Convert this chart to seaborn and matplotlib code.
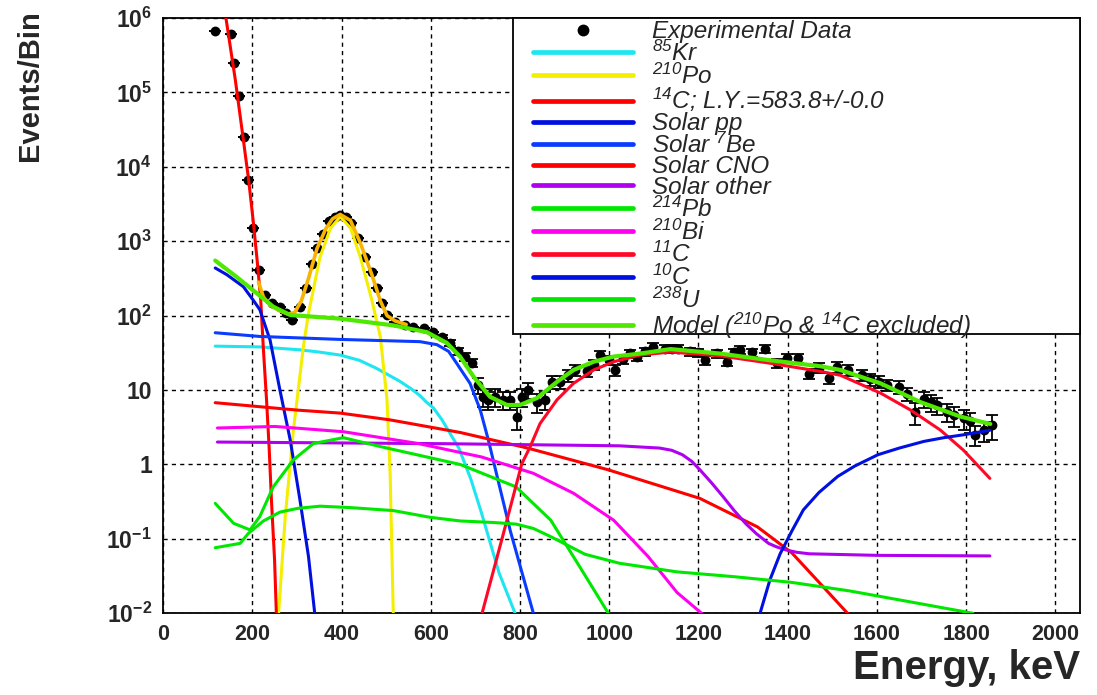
import numpy as np
import pandas as pd
import matplotlib
matplotlib.use("Agg")
import matplotlib.pyplot as plt
import seaborn as sns
from matplotlib.lines import Line2D
from matplotlib.patches import Rectangle
from matplotlib.ticker import MultipleLocator, LogLocator, FixedLocator, FixedFormatter, NullFormatter

# experimental spectrum (energy in keV, events per bin, relative error)
exp_energy = [117, 152, 158, 171, 182, 191, 202, 216, 229, 244, 262, 275, 290, 307, 321, 333,
              345, 358, 372, 385, 397, 410, 422, 438, 453, 468, 479, 490, 502, 520, 543, 561,
              584, 606, 625, 643, 662, 677, 692, 707, 718, 729, 744, 763, 778, 793, 804, 819,
              838, 856, 871, 890, 907, 924, 950, 965, 980, 1000, 1013, 1030, 1047, 1062, 1080,
              1099, 1125, 1140, 1155, 1181, 1198, 1215, 1241, 1264, 1280, 1294, 1320, 1350,
              1376, 1398, 1424, 1447, 1470, 1492, 1510, 1536, 1566, 1585, 1604, 1622, 1649,
              1668, 1686, 1705, 1720, 1735, 1757, 1772, 1794, 1808, 1820, 1839, 1858]
exp_counts = [6.7e5, 6.1e5, 2.5e5, 8.9e4, 2.5e4, 6.6e3, 1.5e3, 410, 190, 148, 129, 110, 87, 132,
              234, 500, 800, 1260, 1860, 2140, 2240, 2090, 1740, 1100, 620, 390, 234, 148, 102,
              83, 74, 71, 68, 60, 52, 43, 33, 28, 23, 11.7, 8.1, 7.4, 8.1, 7.4, 7.4, 4.4, 8.1,
              10, 6.9, 7.4, 12.9, 12.9, 15.8, 18.6, 17.8, 22, 29.5, 25, 18.6, 26, 31, 28, 33,
              38, 36, 35.5, 36, 33, 32, 25, 31, 24, 32, 35, 32, 36, 23, 27, 27, 16.6, 20, 14.5,
              20.4, 18.6, 15.8, 14, 12.9, 11.7, 11, 8.9, 5.1, 7.6, 6.9, 6.3, 5.1, 4.6, 4.2,
              3.8, 2.5, 2.9, 3.4]
exp_rel_err = [0.0] * 34 + [0.05, 0.08, 0.1, 0.12, 0.12, 0.25, 0.28, 0.28, 0.28, 0.28, 0.28,
               0.35, 0.28, 0.25, 0.28, 0.28, 0.2, 0.2, 0.18, 0.16, 0.16, 0.15, 0.13, 0.14,
               0.16, 0.14, 0.13, 0.13, 0.12, 0.12, 0.12, 0.12, 0.12, 0.12, 0.12, 0.13, 0.12,
               0.13, 0.12, 0.12, 0.12, 0.12, 0.14, 0.14, 0.14, 0.16, 0.15, 0.17, 0.16, 0.16,
               0.17, 0.18, 0.18, 0.18, 0.19, 0.2, 0.33, 0.25, 0.26, 0.26, 0.28, 0.3, 0.3,
               0.3, 0.3, 0.3, 0.37]

# fitted components
kr85_e = [117, 217, 307, 350, 397, 440, 479, 500, 530, 555, 575, 590, 606, 625, 643, 663, 690,
          714, 753, 789]
kr85_v = [38.9, 38.0, 34.7, 32.4, 29.5, 25.1, 19.5, 16.6, 13.2, 10.5, 8.5, 6.9, 5.75, 4.0, 2.63,
          1.66, 0.63, 0.22, 0.035, 0.010]

po210_e = [259, 274, 292, 315, 326, 352, 375, 397, 420, 442, 468, 487, 502, 509, 516]
po210_v = [0.010, 0.2, 2.8, 40, 107, 617, 1480, 2140, 1510, 617, 162, 52, 7.4, 0.76, 0.010]

c14_e = [141, 162, 179, 192, 202, 211, 219, 225, 232, 238, 243, 250, 254]
c14_v = [1.0e6, 1.48e5, 2.57e4, 6.6e3, 1.9e3, 550, 162, 35, 7.4, 1.6, 0.33, 0.052, 0.010]

pp_e = [117, 143, 180, 202, 217, 240, 262, 285, 307, 326, 340]
pp_v = [437, 355, 245, 162, 120, 46.8, 10, 2.14, 0.33, 0.058, 0.010]

be7_e = [117, 217, 397, 576, 614, 640, 658, 688, 711, 729, 778, 830]
be7_v = [58.9, 52.5, 47.9, 44.7, 40.7, 33.1, 22.9, 12.3, 5.4, 2.14, 0.13, 0.010]

cno_e = [117, 302, 397, 508, 666, 817, 997, 1203, 1332, 1409, 1473, 1534]
cno_v = [6.76, 5.37, 4.90, 3.98, 2.69, 1.66, 0.85, 0.35, 0.145, 0.065, 0.025, 0.010]

other_e = [122, 637, 1023, 1113, 1140, 1164, 1185, 1203, 1230, 1255, 1280, 1306, 1330, 1357,
           1375, 1396, 1420, 1448, 1602, 1853]
other_v = [2.0, 1.9, 1.78, 1.66, 1.55, 1.35, 1.10, 0.85, 0.56, 0.37, 0.24, 0.16, 0.117, 0.087,
           0.078, 0.071, 0.066, 0.063, 0.060, 0.059]

pb214_e = [117, 158, 195, 217, 247, 292, 337, 404, 487, 591, 666, 791, 869, 933, 998]
pb214_v = [0.30, 0.162, 0.132, 0.20, 0.50, 1.15, 1.91, 2.29, 1.74, 1.26, 1.0, 0.50, 0.178, 0.043, 0.010]

bi210_e = [122, 251, 405, 572, 714, 830, 920, 1010, 1087, 1152, 1207]
bi210_v = [3.09, 3.24, 2.75, 1.91, 1.26, 0.76, 0.41, 0.178, 0.058, 0.019, 0.010]

c11_e = [715, 765, 804, 823, 845, 883, 920, 965, 1010, 1069, 1137, 1249, 1361, 1473, 1518,
         1608, 1675, 1742, 1794, 1853]
c11_v = [0.010, 0.132, 1.02, 1.74, 3.55, 7.4, 12.3, 18.6, 24.0, 29.5, 32.4, 28.8, 22.9, 17.8,
         15.8, 9.1, 5.4, 2.9, 1.55, 0.65]

c10_e = [1338, 1360, 1383, 1410, 1435, 1470, 1512, 1550, 1602, 1650, 1705, 1750, 1795, 1853]
c10_v = [0.010, 0.028, 0.063, 0.13, 0.245, 0.42, 0.69, 0.95, 1.35, 1.66, 2.04, 2.29, 2.51, 2.88]

u238_e = [117, 173, 191, 225, 262, 302, 352, 420, 516, 598, 666, 740, 791, 830, 869, 946, 1023,
          1152, 1280, 1409, 1538, 1667, 1815]
u238_v = [0.076, 0.087, 0.118, 0.174, 0.229, 0.257, 0.275, 0.263, 0.240, 0.195, 0.174, 0.166,
          0.158, 0.138, 0.107, 0.062, 0.047, 0.036, 0.031, 0.026, 0.020, 0.0145, 0.010]

model_e = [117, 165, 210, 247, 285, 397, 516, 591, 636, 666, 696, 733, 771, 800, 838, 883, 920,
           965, 1010, 1069, 1137, 1249, 1361, 1473, 1518, 1608, 1697, 1787, 1854]
model_v = [550, 331, 200, 132, 102, 91, 74, 60, 43, 28, 15.1, 8.1, 6.3, 6.3, 7.8, 12.9, 18.6,
           24.0, 28.2, 30.9, 35.5, 30.9, 25.1, 20.9, 18.6, 12.3, 6.9, 4.4, 3.5]

# total fit around the 210Po peak
total_e = [214, 225, 240, 260, 280, 295, 310, 326, 345, 365, 380, 397, 420, 442, 468, 487, 502,
           520, 545]
total_v = [282, 178, 138, 117, 105, 110, 158, 316, 794, 1480, 2000, 2290, 1900, 955, 355, 158,
           100, 85, 76]

sns.set_style("white")
plt.rcParams['font.family'] = ['Liberation Sans', 'DejaVu Sans']
plt.rcParams['mathtext.fontset'] = 'custom'
plt.rcParams['mathtext.it'] = 'Liberation Sans:italic'
plt.rcParams['mathtext.rm'] = 'Liberation Sans:italic'
plt.rcParams['mathtext.bf'] = 'Liberation Sans:bold'
plt.rcParams['mathtext.default'] = 'it'

fig = plt.figure(figsize=(10.97, 6.95), dpi=100)
ax = fig.add_axes([0.1486, 0.1176, 0.8359, 0.8565])
ax.set_yscale('log')

# data points
err = np.array(exp_counts) * np.array(exp_rel_err)
ax.errorbar(exp_energy, exp_counts, yerr=err, fmt='none', ecolor='black', elinewidth=1.3,
            capsize=4.5, capthick=1.3, zorder=2)
sns.scatterplot(x=exp_energy, y=exp_counts, color='black', s=50, edgecolor='black',
                linewidth=0, ax=ax, zorder=3)

curves = [
    (kr85_e, kr85_v, '#1ee6f0', r'$^{85}$Kr'),
    (po210_e, po210_v, '#f4ee00', r'$^{210}$Po'),
    (c14_e, c14_v, '#ff0000', r'$^{14}$C; L.Y.=583.8+/-0.0'),
    (pp_e, pp_v, '#0010e0', 'Solar pp'),
    (be7_e, be7_v, '#0a3cff', r'Solar $^{7}$Be'),
    (cno_e, cno_v, '#ff0000', 'Solar CNO'),
    (other_e, other_v, '#b000f0', 'Solar other'),
    (pb214_e, pb214_v, '#00e800', r'$^{214}$Pb'),
    (bi210_e, bi210_v, '#ff00f0', r'$^{210}$Bi'),
    (c11_e, c11_v, '#ff0828', r'$^{11}$C'),
    (c10_e, c10_v, '#0010e0', r'$^{10}$C'),
    (u238_e, u238_v, '#00e800', r'$^{238}$U'),
]

handles = [Line2D([], [], marker='o', color='black', linestyle='none', markersize=7.5)]
labels = ['Experimental Data']
for e, v, col, lab in curves:
    sns.lineplot(x=e, y=v, color=col, linewidth=2.2, sort=False, estimator=None, ax=ax,
                 zorder=4)
    handles.append(Line2D([], [], color=col, linewidth=3.4))
    labels.append(lab)

sns.lineplot(x=total_e, y=total_v, color='#f8b400', linewidth=2.6, sort=False,
             estimator=None, ax=ax, zorder=4)
sns.lineplot(x=model_e, y=model_v, color='#4ee800', linewidth=3.0, sort=False,
             estimator=None, ax=ax, zorder=5)
handles.append(Line2D([], [], color='#4ee800', linewidth=3.4))
labels.append(r'Model ($^{210}$Po & $^{14}$C excluded)')

ax.set_xlim(0, 2055)
ax.set_ylim(1e-2, 1e6)

ax.xaxis.set_major_locator(MultipleLocator(200))
ax.xaxis.set_minor_locator(MultipleLocator(50))
ax.yaxis.set_major_locator(FixedLocator([10.0 ** k for k in range(-2, 7)]))
ax.yaxis.set_major_formatter(FixedFormatter(
    [r'$\mathbf{10^{-2}}$', r'$\mathbf{10^{-1}}$', '1', '10', r'$\mathbf{10^{2}}$',
     r'$\mathbf{10^{3}}$', r'$\mathbf{10^{4}}$', r'$\mathbf{10^{5}}$', r'$\mathbf{10^{6}}$']))
ax.yaxis.set_minor_locator(LogLocator(base=10, subs=np.arange(2, 10), numticks=20))
ax.yaxis.set_minor_formatter(NullFormatter())

ax.tick_params(which='both', direction='in', top=False, right=False, color='black')
ax.tick_params(which='major', length=14, width=1.2, labelsize=15.5, pad=8)
ax.tick_params(axis='y', which='major', labelsize=16.5)
ax.tick_params(which='minor', length=9, width=1.0)
for lab in ax.get_xticklabels() + ax.get_yticklabels():
    lab.set_fontweight('bold')

ax.grid(True, which='major', color='black', linestyle=(0, (3, 3)), linewidth=1.0)
for sp in ax.spines.values():
    sp.set_color('black')
    sp.set_linewidth(1.3)

fig.text(0.027, 0.985, 'Events/Bin', rotation=90, ha='center', va='top',
         fontsize=21, fontweight='bold')
fig.text(0.9845, 0.012, 'Energy, keV', ha='right', va='bottom', fontsize=29,
         fontweight='bold')

# legend box (ROOT style)
fig.patches.append(Rectangle((0.4676, 0.519), 0.5169, 0.455, transform=fig.transFigure,
                             facecolor='white', edgecolor='black', linewidth=1.3, zorder=6))
leg = fig.legend(handles, labels, loc='upper left', bbox_to_anchor=(0.4812, 0.978),
                 frameon=False, fontsize=17.5, handlelength=4.12, handletextpad=0.78,
                 labelspacing=-0.10, borderpad=0.2, borderaxespad=0)
for t in leg.get_texts():
    t.set_fontstyle('italic')
leg.set_zorder(7)

fig.savefig('out.png', dpi=100)
